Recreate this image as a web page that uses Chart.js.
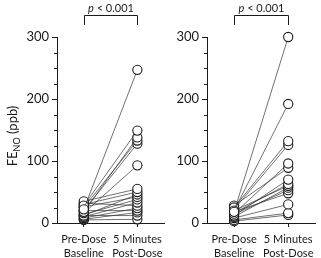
<!DOCTYPE html>
<html>
<head>
<meta charset="utf-8">
<script src="https://cdn.jsdelivr.net/npm/chart.js@4"></script>
<style>
  html, body { margin: 0; padding: 0; background: #fff; }
  #wrap { position: relative; width: 321px; height: 258px; }
  #leftChart { position: absolute; left: 0; top: 0; }
  #rightChart { position: absolute; left: 170px; top: 0; }
</style>
</head>
<body>
<div id="wrap">
  <canvas id="leftChart" width="170" height="258"></canvas>
  <canvas id="rightChart" width="151" height="258"></canvas>
</div>
<script>
// categories and per-subject values (ppb)
const categories = [['Pre-Dose', 'Baseline'], ['5 Minutes', 'Post-Dose']];
const yTicks = [0, 100, 200, 300];

const leftPre  = [22, 28, 18, 25, 20, 16, 35, 30, 12, 26, 14, 10, 32, 8, 20, 6, 12, 5];
const leftPost = [247, 149, 138, 133, 128, 93, 55, 50, 46, 42, 38, 33, 28, 24, 20, 17, 12, 6];

const rightPre  = [18, 20, 25, 22, 15, 28, 12, 16, 20, 10, 14, 18, 8, 5, 3];
const rightPost = [300, 192, 132, 126, 96, 89, 70, 63, 60, 57, 53, 48, 30, 16, 13];

const pLabel = 'p < 0.001';
const INK = '#1a1a1a';
const FONT = 'Lato, "Open Sans", sans-serif';

// short minor ticks every 25, the bracket with p value, optional axis title
const panelDecor = {
  id: 'panelDecor',
  afterDraw(chart, args, opts) {
    const ctx = chart.ctx;
    const y = chart.scales.y;
    const x = chart.scales.x;
    ctx.save();
    ctx.strokeStyle = INK;
    ctx.lineWidth = 1;
    // minor ticks
    for (let v = 25; v < 300; v += 25) {
      if (v % 100 === 0) continue;
      const py = Math.round(y.getPixelForValue(v)) + 0.5;
      ctx.beginPath();
      ctx.moveTo(y.right - 3, py);
      ctx.lineTo(y.right, py);
      ctx.stroke();
    }
    // bracket
    const x1 = Math.round(x.getPixelForValue(0)) + 0.5;
    const x2 = Math.round(x.getPixelForValue(1)) + 0.5;
    ctx.beginPath();
    ctx.moveTo(x1, 25);
    ctx.lineTo(x1, 15.5);
    ctx.lineTo(x2, 15.5);
    ctx.lineTo(x2, 25);
    ctx.stroke();
    // p value, italic p
    ctx.fillStyle = INK;
    ctx.textBaseline = 'middle';
    const italic = 'italic 11px ' + FONT;
    const normal = '11px ' + FONT;
    ctx.font = italic;
    const wp = ctx.measureText('p').width;
    ctx.font = normal;
    const rest = pLabel.slice(1);
    const wr = ctx.measureText(rest).width;
    let tx = (x1 + x2) / 2 - (wp + wr) / 2;
    ctx.font = italic;
    ctx.textAlign = 'left';
    ctx.fillText('p', tx, 8);
    ctx.font = normal;
    ctx.fillText(rest, tx + wp, 8);
    // y axis title with subscript
    if (opts.title) {
      const big = '13px ' + FONT;
      const small = '9px ' + FONT;
      ctx.font = big;
      const wFE = ctx.measureText('FE').width;
      const wTail = ctx.measureText(' (ppb)').width;
      ctx.font = small;
      const wNO = ctx.measureText('NO').width;
      const total = wFE + wNO + wTail;
      ctx.translate(13, 136);
      ctx.rotate(-Math.PI / 2);
      let cx = -total / 2;
      ctx.textBaseline = 'alphabetic';
      ctx.font = big;
      ctx.fillText('FE', cx, 4);
      cx += wFE;
      ctx.font = small;
      ctx.fillText('NO', cx, 7);
      cx += wNO;
      ctx.font = big;
      ctx.fillText(' (ppb)', cx, 4);
    }
    ctx.restore();
  }
};

function makePanel(id, pre, post, axisWidth, withTitle) {
  const datasets = pre.map((v, i) => ({
    data: [v, post[i]],
    borderColor: '#333',
    borderWidth: 0.7,
    pointRadius: 4.6,
    pointBorderWidth: 1.1,
    pointBorderColor: INK,
    pointBackgroundColor: '#fff',
    clip: false
  }));
  return new Chart(document.getElementById(id), {
    type: 'line',
    data: { labels: categories, datasets: datasets },
    options: {
      responsive: false,
      animation: false,
      layout: { padding: { top: 37, right: 0, bottom: 0, left: 0 } },
      plugins: {
        legend: { display: false },
        tooltip: { enabled: false },
        panelDecor: { title: withTitle }
      },
      scales: {
        x: {
          offset: true,
          grid: { drawOnChartArea: false, offset: false, tickLength: 4, color: INK },
          border: { color: INK, width: 1 },
          ticks: { color: INK, font: { family: FONT, size: 11, lineHeight: 1.25 }, padding: 6, maxRotation: 0 },
          afterFit: s => { s.height = 35; }
        },
        y: {
          min: 0,
          max: 300,
          afterBuildTicks: s => { s.ticks = yTicks.map(v => ({ value: v })); },
          grid: { drawOnChartArea: false, tickLength: 5, color: INK },
          border: { color: INK, width: 1 },
          ticks: { color: INK, font: { family: FONT, size: 13 }, padding: 3 },
          afterFit: s => { s.width = axisWidth; }
        }
      }
    },
    plugins: [panelDecor]
  });
}

makePanel('leftChart', leftPre, leftPost, 57, true);
makePanel('rightChart', rightPre, rightPost, 37, false);
</script>
</body>
</html>
